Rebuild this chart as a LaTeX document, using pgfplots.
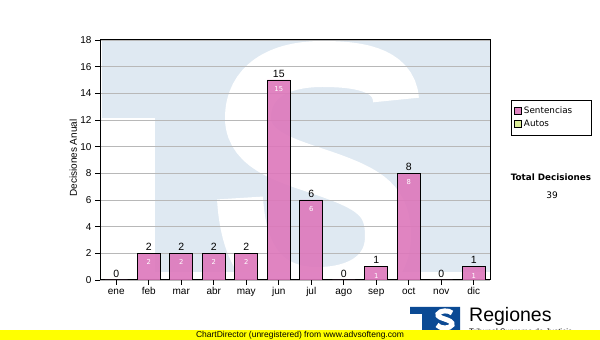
\documentclass[border=0pt]{standalone}
\usepackage{pgfplots}
\pgfplotsset{compat=1.18}
\usepackage{fontspec}
\setmainfont{Liberation Sans}
\newfontfamily\tahoma{DejaVu Sans}
\definecolor{wm}{HTML}{DFE9F2}
\definecolor{barpink}{HTML}{DD77BB}
\definecolor{autosgreen}{HTML}{DDEE99}
\definecolor{logoblue}{HTML}{0B4A94}
\definecolor{cdyellow}{HTML}{FFFF00}
\begin{document}
\begin{tikzpicture}[x=1pt,y=1pt]
\path[use as bounding box] (0,0) rectangle (600,340);
% watermark (logo drawn large, behind the plot)
\fill[wm] (102,300) -- (490,300) -- (490,68) -- (155,68) -- (155,222) -- (102,222) -- cycle;
\begin{scope}
\clip (102,300) -- (490,300) -- (490,68) -- (155,68) -- (155,222) -- (102,222) -- cycle;
\draw[white, line width=46pt, line cap=butt]
  (396,240) .. controls (394,272) and (355,276) .. (322,276)
  .. controls (278,276) and (248,258) .. (248,222)
  .. controls (248,188) and (292,178) .. (326,166)
  .. controls (372,150) and (388,138) .. (388,104)
  .. controls (388,66) and (355,50) .. (318,50)
  .. controls (278,50) and (244,70) .. (240,142);
\end{scope}
\begin{axis}[
  at={(100pt,60pt)}, anchor=south west,
  width=390pt, height=240pt, scale only axis,
  xmin=-0.5, xmax=11.5, ymin=0, ymax=18,
  ytick={0,2,...,18},
  xtick={0,...,11},
  xticklabels={ene,feb,mar,abr,may,jun,jul,ago,sep,oct,nov,dic},
  tick align=outside, tick pos=left,
  major tick length=5pt,
  ymajorgrids, grid style={draw=black!28, line width=0.8pt},
  axis line style={line width=1pt},
  every tick/.style={black, line width=0.8pt},
  /pgf/number format/assume math mode=true,
  ticklabel style={font=\fontsize{10}{12}\selectfont},
  xticklabel style={anchor=north, text height=7.5pt, text depth=2pt, inner ysep=2pt},
  ylabel={Decisiones Anual},
  ylabel style={font=\fontsize{10}{12}\selectfont, at={(-0.0687,0.508)}, anchor=center},
  legend style={at={(1.0538,0.75)}, anchor=north west, draw=black, line width=0.8pt,
    font=\tahoma\fontsize{8.8}{10}\selectfont, legend cell align=left,
    inner xsep=3pt, inner ysep=4.5pt, row sep=0pt,
    nodes={inner ysep=2pt, text height=7pt, text depth=2pt}},
  legend image code/.code={\draw[#1, draw=black, line width=0.6pt] (0pt,-2.5pt) rectangle (7pt,4.5pt);},
]
\addplot[ybar, bar width=0.7, fill=barpink, fill opacity=0.9, draw=black, line width=0.8pt,
  nodes near coords,
  every node near coord/.append style={black, fill opacity=1, text opacity=1, font=\fontsize{10.5}{12}\selectfont, anchor=south, yshift=-1pt}]
coordinates {(0,0) (1,2) (2,2) (3,2) (4,2) (5,15) (6,6) (7,0) (8,1) (9,8) (10,0) (11,1)};
\addlegendentry{Sentencias\hspace*{14pt}}
\addlegendimage{fill=autosgreen}
\addlegendentry{Autos}
\addplot[draw=none, mark=none, nodes near coords, forget plot,
  every node near coord/.append style={white, font=\tahoma\fontsize{6.8}{8}\selectfont, anchor=north, yshift=-3pt}]
coordinates {(1,2) (2,2) (3,2) (4,2) (5,15) (6,6) (8,1) (9,8) (11,1)};
\end{axis}
% side texts
\node[font=\tahoma\fontsize{8.8}{10}\selectfont\bfseries] at (551,163) {Total Decisiones};
\node[font=\tahoma\fontsize{9}{11}\selectfont] at (552,145) {39};
% logo
\fill[logoblue] (410,33) -- (460,33) -- (460,10) -- (435,10) -- (435,26) -- (410,26) -- cycle;
\fill[logoblue] (422,26) rectangle (435,10);
\draw[white, line width=5pt] (452,27) .. controls (449,30) and (440,30) .. (438,26) .. controls (436,21) and (454,21) .. (452,15) .. controls (450,11) and (440,11) .. (437,15);
\node[anchor=base west, inner sep=0pt, font=\fontsize{19.5}{22}\selectfont] at (469,18) {Regiones};
\node[anchor=base west, inner sep=0pt, font=\fontsize{8}{10}\selectfont] at (469,5) {Tribunal Supremo de Justicia};
% ChartDirector band
\fill[cdyellow] (0,0) rectangle (600,10);
\node[font=\fontsize{8.5}{10}\selectfont, inner sep=0pt] at (300,5) {ChartDirector (unregistered) from www.advsofteng.com};
\end{tikzpicture}
\end{document}
